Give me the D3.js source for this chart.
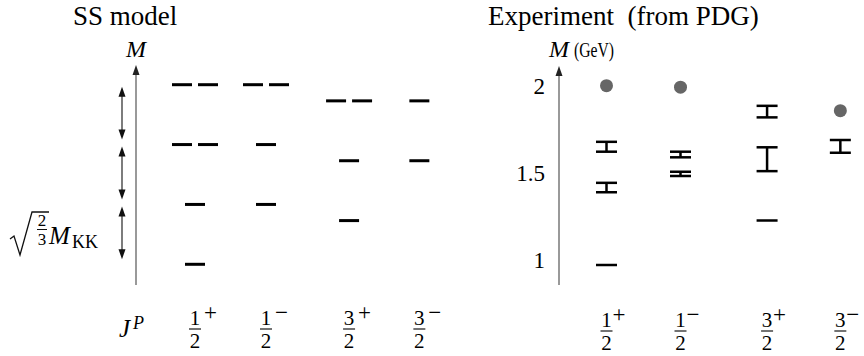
<!DOCTYPE html>
<html>
<head>
<meta charset="utf-8">
<script src="https://cdn.jsdelivr.net/npm/d3@7"></script>
<style>
  body { margin: 0; background: #fff; font-family: "Liberation Serif", "Times New Roman", serif; }
  svg text { font-family: "Liberation Serif", "Times New Roman", serif !important; }
</style>
</head>
<body>
<script>
// J^P columns
const jpNum = ['1', '1', '3', '3'];
const jpSign = ['+', '\u2212', '+', '\u2212'];

// SS model levels, in units of sqrt(2/3) M_KK above the ground state
const modelCol = [0, 0, 0, 0, 1, 1, 1, 2, 2, 2, 3, 3];
const modelLevel = [0, 1, 2, 3, 1, 2, 3, 0.73, 1.73, 2.73, 1.73, 2.73];
const modelCount = [1, 1, 2, 2, 1, 1, 2, 1, 1, 2, 1, 1];

// experiment (PDG), GeV
const expLineCol = [0, 2];
const expLineMass = [0.939, 1.232];
const expBarCol = [0, 0, 1, 1, 2, 2, 3];
const expBarLow = [1.418, 1.685, 1.525, 1.648, 1.557, 1.911, 1.678];
const expBarHigh = [1.480, 1.750, 1.553, 1.685, 1.714, 1.987, 1.762];
const expDotCol = [0, 1, 3];
const expDotMass = [2.12, 2.11, 1.955];
const massTicks = [1, 1.5, 2];
const massTickLabels = ['1', '1.5', '2'];

const width = 864, height = 356;
const colSlot = [0, 1, 2.17, 3.16]; // uneven column spacing

const svg = d3.select('body').append('svg')
  .attr('width', width)
  .attr('height', height)
  .attr('font-family', 'Liberation Serif')
  .style('display', 'block');

// every text goes through here so the serif font sticks
function txt(g, x, y, size, s, italic) {
  const t = g.append('text').attr('x', x).attr('y', y)
    .attr('font-family', 'Liberation Serif')
    .attr('font-size', size)
    .text(s);
  if (italic) t.attr('font-style', 'italic');
  return t;
}

const xModel = d3.scaleLinear().domain([0, 1]).range([195, 266]);
const xExp = d3.scaleLinear().domain([0, 1]).range([606.5, 680.5]);
const yModel = d3.scaleLinear().domain([0, 3]).range([264.3, 84.7]);
const yMass = d3.scaleLinear().domain([0.939, 1.232]).range([265, 220.5]);
const yTickLabel = d3.scaleLinear().domain([1, 2]).range([260, 86]); // labels sit a bit off the marks

// arrow head (filled triangle) pointing up/down
function head(g, x, y, dir, w, h, col) {
  g.append('path')
    .attr('d', `M${x},${y} L${x - w / 2},${y + dir * h} L${x + w / 2},${y + dir * h} Z`)
    .attr('fill', col);
}

// ---------- titles
txt(svg, 73, 25, 27, 'SS model');
txt(svg, 488, 25, 27, 'Experiment\u00a0 (from PDG)');

// ---------- left axis
const gl = svg.append('g');
gl.append('line').attr('x1', 136).attr('x2', 136).attr('y1', 72).attr('y2', 285)
  .attr('stroke', '#777').attr('stroke-width', 1.5);
head(gl, 136, 65, 1, 7, 10, '#222');
txt(gl, 136, 57, 24, 'M', true).attr('text-anchor', 'middle');

// double arrows showing level spacing
[0, 1, 2].forEach(n => {
  const yTop = yModel(n + 1) + 2, yBot = yModel(n) - 5;
  gl.append('line').attr('x1', 122).attr('x2', 122)
    .attr('y1', yTop + 6).attr('y2', yBot - 6)
    .attr('stroke', '#111').attr('stroke-width', 1.1);
  head(gl, 122, yTop, 1, 7, 10, '#111');
  head(gl, 122, yBot, -1, 7, 10, '#111');
});

// sqrt(2/3) M_KK
const lab = svg.append('g');
lab.append('path')
  .attr('d', 'M10,239 L14,236 L20,255 L32,212 L49,212')
  .attr('fill', 'none').attr('stroke', '#111').attr('stroke-width', 1.3);
txt(lab, 42, 226, 17, '2').attr('text-anchor', 'middle');
lab.append('line').attr('x1', 37).attr('x2', 47).attr('y1', 229.5).attr('y2', 229.5)
  .attr('stroke', '#111').attr('stroke-width', 1);
txt(lab, 42, 245, 17, '3').attr('text-anchor', 'middle');
txt(lab, 49, 244, 25, 'M', true);
txt(lab, 72, 248, 18, 'KK');

// model levels
const dashW = 20, dashGap = 6;
modelLevel.forEach((lv, i) => {
  const cx = xModel(colSlot[modelCol[i]]);
  const y = yModel(lv);
  const n = modelCount[i];
  const total = n * dashW + (n - 1) * dashGap;
  d3.range(n).forEach(k => {
    const x0 = cx - total / 2 + k * (dashW + dashGap);
    svg.append('line').attr('x1', x0).attr('x2', x0 + dashW)
      .attr('y1', y).attr('y2', y)
      .attr('stroke', '#000').attr('stroke-width', 3);
  });
});

// ---------- right axis
const gr = svg.append('g');
gr.append('line').attr('x1', 559).attr('x2', 559).attr('y1', 73).attr('y2', 285)
  .attr('stroke', '#777').attr('stroke-width', 1.5);
head(gr, 559, 66, 1, 7, 10, '#222');
txt(gr, 549, 57, 24, 'M', true);
txt(gr, 574, 57, 20, '(GeV)')
  .attr('textLength', 40).attr('lengthAdjust', 'spacingAndGlyphs');

massTicks.forEach((d, i) => {
  txt(gr, 545, yTickLabel(d) + 8, 23, massTickLabels[i]).attr('text-anchor', 'end');
});

const barW = 21;
expLineMass.forEach((m, i) => {
  const cx = xExp(colSlot[expLineCol[i]]);
  svg.append('line').attr('x1', cx - barW / 2).attr('x2', cx + barW / 2)
    .attr('y1', yMass(m)).attr('y2', yMass(m))
    .attr('stroke', '#000').attr('stroke-width', 2.5);
});

expBarLow.forEach((lo, i) => {
  const cx = xExp(colSlot[expBarCol[i]]);
  const y1 = yMass(expBarHigh[i]), y2 = yMass(lo);
  const g = svg.append('g').attr('stroke', '#000').attr('stroke-width', 2.5);
  g.append('line').attr('x1', cx - barW / 2).attr('x2', cx + barW / 2).attr('y1', y1).attr('y2', y1);
  g.append('line').attr('x1', cx - barW / 2).attr('x2', cx + barW / 2).attr('y1', y2).attr('y2', y2);
  g.append('line').attr('x1', cx).attr('x2', cx).attr('y1', y1).attr('y2', y2);
});

svg.selectAll('circle.dot').data(expDotMass).enter().append('circle')
  .attr('class', 'dot')
  .attr('cx', (d, i) => xExp(colSlot[expDotCol[i]]))
  .attr('cy', d => yMass(d))
  .attr('r', 6.5)
  .attr('fill', '#666');

// ---------- J^P labels
const jp = svg.append('g');
txt(jp, 119, 337, 25, 'J', true);
txt(jp, 133, 329, 18, 'P', true);

function fraction(cx, i, yBar, signDx) {
  txt(jp, cx, yBar - 4, 21, jpNum[i]).attr('text-anchor', 'middle');
  jp.append('line').attr('x1', cx - 6).attr('x2', cx + 6).attr('y1', yBar).attr('y2', yBar)
    .attr('stroke', '#000').attr('stroke-width', 1.1);
  txt(jp, cx, yBar + 19, 21, '2').attr('text-anchor', 'middle');
  txt(jp, cx + signDx, yBar - 9, 23, jpSign[i]);
}
jpNum.forEach((d, i) => {
  fraction(xModel(colSlot[i]), i, 329, 9);
  fraction(xExp(colSlot[i]), i, 331, 6);
});
</script>
</body>
</html>
